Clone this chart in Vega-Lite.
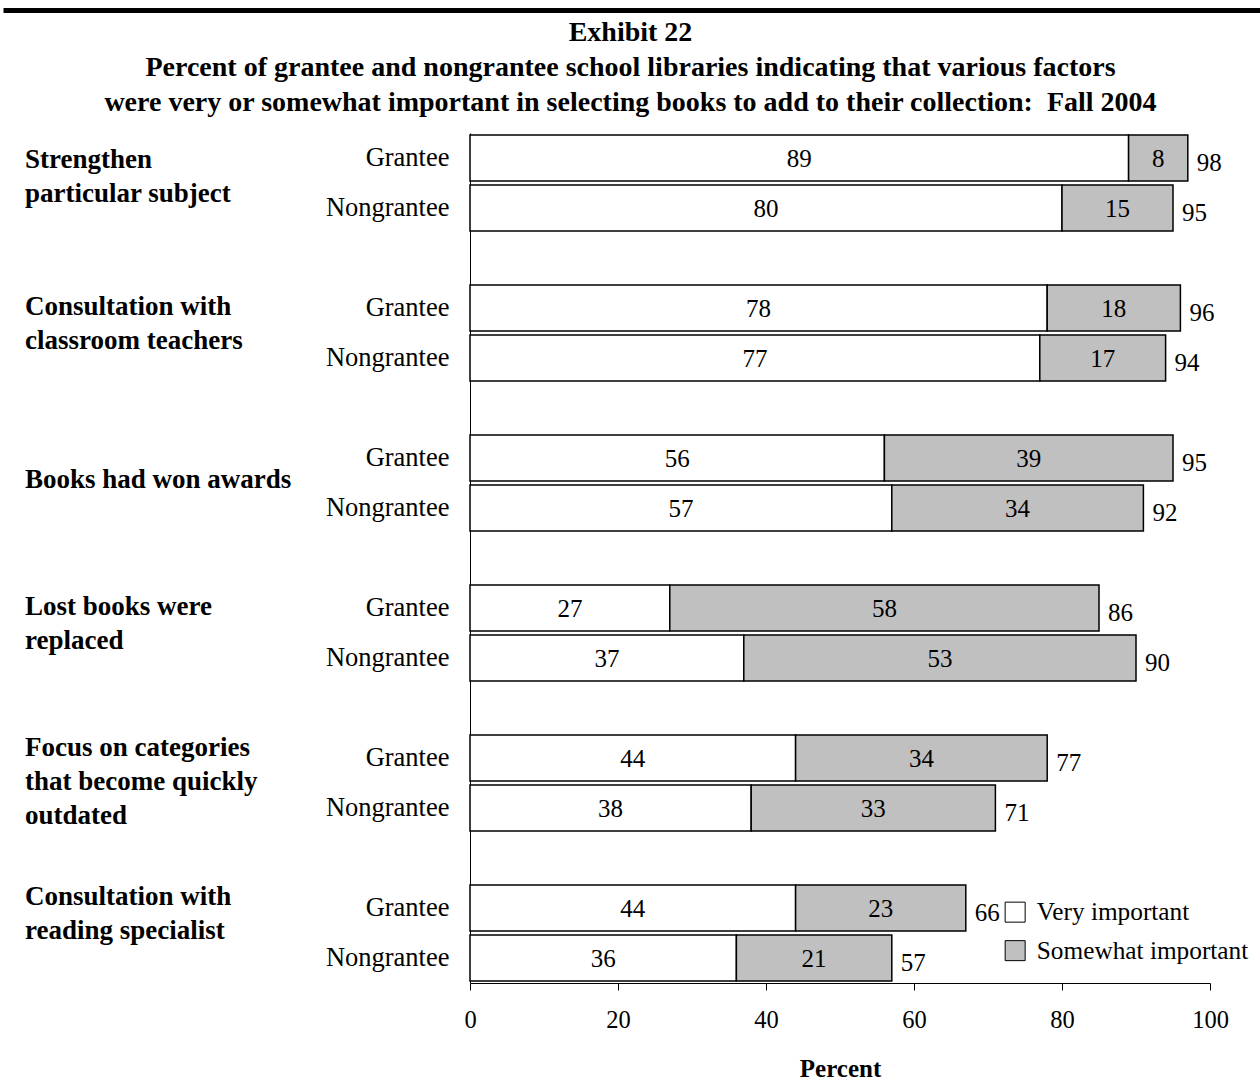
{
  "$schema": "https://vega.github.io/schema/vega-lite/v6.json",
  "padding": {"left": 0, "top": 7, "right": 0, "bottom": 0},
  "autosize": {"type": "pad"},
  "background": "white",
  "spacing": 6,
  "config": {
    "font": "Liberation Serif",
    "view": {"stroke": null},
    "axis": {"labelColor": "black", "titleColor": "black", "domainColor": "black", "tickColor": "black", "grid": false}
  },
  "resolve": {"legend": {"fill": "independent"}},
  "vconcat": [
    {
      "width": 790,
      "height": 5,
      "view": {"fill": "black", "stroke": null},
      "data": {"values": [{"band": "top"}]},
      "mark": {"type": "rect", "color": "black"},
      "encoding": {
        "y": {"field": "band", "type": "nominal", "axis": {"title": null, "labels": false, "domain": false, "ticks": true, "tickSize": 467, "tickWidth": 5, "tickColor": "black"}}
      }
    },
    {
      "width": 740,
      "height": 850,
      "title": {
        "text": ["Exhibit 22", "Percent of grantee and nongrantee school libraries indicating that various factors", "were very or somewhat important in selecting books to add to their collection:\u00a0 Fall 2004"],
        "fontSize": 28, "fontWeight": "bold", "font": "Liberation Serif", "lineHeight": 35,
        "anchor": "middle", "frame": "bounds", "offset": 16, "dx": -6, "color": "black"
      },
      "data": {"values": [
        {"factor": "Strengthen particular subject", "who": "Grantee", "very": 89, "somewhat": 8, "total": 98},
        {"factor": "Strengthen particular subject", "who": "Nongrantee", "very": 80, "somewhat": 15, "total": 95},
        {"factor": "Consultation with classroom teachers", "who": "Grantee", "very": 78, "somewhat": 18, "total": 96},
        {"factor": "Consultation with classroom teachers", "who": "Nongrantee", "very": 77, "somewhat": 17, "total": 94},
        {"factor": "Books had won awards", "who": "Grantee", "very": 56, "somewhat": 39, "total": 95},
        {"factor": "Books had won awards", "who": "Nongrantee", "very": 57, "somewhat": 34, "total": 92},
        {"factor": "Lost books were replaced", "who": "Grantee", "very": 27, "somewhat": 58, "total": 86},
        {"factor": "Lost books were replaced", "who": "Nongrantee", "very": 37, "somewhat": 53, "total": 90},
        {"factor": "Focus on categories that become quickly outdated", "who": "Grantee", "very": 44, "somewhat": 34, "total": 77},
        {"factor": "Focus on categories that become quickly outdated", "who": "Nongrantee", "very": 38, "somewhat": 33, "total": 71},
        {"factor": "Consultation with reading specialist", "who": "Grantee", "very": 44, "somewhat": 23, "total": 66},
        {"factor": "Consultation with reading specialist", "who": "Nongrantee", "very": 36, "somewhat": 21, "total": 57}
      ]},
      "transform": [
        {"fold": ["very", "somewhat"], "as": ["level", "value"]},
        {"stack": "value", "groupby": ["factor", "who"], "sort": [{"field": "level", "order": "descending"}], "as": ["x0", "x1"]}
      ],
      "resolve": {"axis": {"y": "independent"}},
      "layer": [
        {
          "mark": {"type": "bar", "stroke": "black", "strokeWidth": 1.5},
          "encoding": {
            "y": {"field": "factor", "type": "nominal",
              "scale": {"domain": ["Strengthen particular subject", "Consultation with classroom teachers", "Books had won awards", "Lost books were replaced", "Focus on categories that become quickly outdated", "Consultation with reading specialist"], "paddingInner": 0.333333, "paddingOuter": 0},
              "axis": {"orient": "left", "title": null, "ticks": false, "domain": true, "labelExpr": "'Grantee'", "labelOffset": -25, "labelPadding": 21, "labelFontSize": 26.5, "labelBaseline": "middle", "labelLimit": 0, "labelOverlap": false}},
            "yOffset": {"field": "who", "type": "nominal", "scale": {"domain": ["Grantee", "Nongrantee"], "paddingInner": 0.08, "paddingOuter": 0.04}},
            "x": {"field": "x0", "type": "quantitative", "scale": {"domain": [0, 100], "nice": false},
              "axis": {"values": [0, 20, 40, 60, 80, 100], "tickSize": 7, "labelFontSize": 24.5, "labelPadding": 18, "labelFlush": false, "title": "Percent", "titleFontSize": 25, "titleFontWeight": "bold", "titlePadding": 25}},
            "x2": {"field": "x1"},
            "fill": {"field": "level", "type": "nominal",
              "scale": {"domain": ["very", "somewhat"], "range": ["white", "#c0c0c0"]},
              "legend": {"orient": "none", "legendX": 532.5, "legendY": 766.5, "title": null, "symbolType": "square", "symbolSize": 400, "symbolStrokeColor": "black", "symbolStrokeWidth": 1, "labelFontSize": 25.3, "labelOffset": 9, "rowPadding": 12.5, "padding": 0, "labelColor": "black", "labelLimit": 0, "labelExpr": "datum.value == 'very' ? 'Very important' : 'Somewhat important'"}}
          }
        },
        {
          "transform": [
            {"fold": ["x0", "x1"], "as": ["edge", "pos"]},
            {"aggregate": [{"op": "mean", "field": "pos", "as": "mid"}], "groupby": ["factor", "who", "level", "value"]}
          ],
          "mark": {"type": "text", "fontSize": 25, "color": "black", "baseline": "middle", "dy": 1},
          "encoding": {
            "y": {"field": "factor", "type": "nominal",
              "axis": {"orient": "left", "title": null, "ticks": false, "domain": false, "labelExpr": "'Nongrantee'", "labelOffset": 25, "labelPadding": 21, "labelFontSize": 26.5, "labelBaseline": "middle", "labelLimit": 0, "labelOverlap": false}},
            "yOffset": {"field": "who", "type": "nominal"},
            "x": {"field": "mid", "type": "quantitative",
              "axis": {"values": [0, 20, 40, 60, 80, 100], "tickSize": 7, "labelFontSize": 24.5, "labelPadding": 18, "labelFlush": false, "title": "Percent", "titleFontSize": 25, "titleFontWeight": "bold", "titlePadding": 25}},
            "text": {"field": "value", "type": "quantitative"}
          }
        },
        {
          "transform": [{"filter": "datum.level == 'somewhat'"}],
          "mark": {"type": "text", "fontSize": 25, "color": "black", "baseline": "middle", "align": "left", "dx": 9, "dy": 5},
          "encoding": {
            "y": {"field": "factor", "type": "nominal",
              "axis": {"orient": "left", "title": null, "ticks": false, "domain": false, "labelAlign": "left", "labelPadding": 445.5, "labelFontSize": 27, "labelFontWeight": "bold", "labelBaseline": "middle", "labelLineHeight": 34, "labelLimit": 0, "labelOverlap": false,
                "labelExpr": "datum.value == 'Strengthen particular subject' ? ['Strengthen', 'particular subject'] : datum.value == 'Consultation with classroom teachers' ? ['Consultation with', 'classroom teachers'] : datum.value == 'Lost books were replaced' ? ['Lost books were', 'replaced'] : datum.value == 'Focus on categories that become quickly outdated' ? ['Focus on categories', 'that become quickly', 'outdated'] : datum.value == 'Consultation with reading specialist' ? ['Consultation with', 'reading specialist'] : datum.value",
                "labelOffset": {"condition": [
                  {"test": "datum.value == 'Strengthen particular subject'", "value": -23},
                  {"test": "datum.value == 'Consultation with classroom teachers'", "value": -26},
                  {"test": "datum.value == 'Books had won awards'", "value": -3},
                  {"test": "datum.value == 'Lost books were replaced'", "value": -26},
                  {"test": "datum.value == 'Focus on categories that become quickly outdated'", "value": -35}
                ], "value": -36}}},
            "yOffset": {"field": "who", "type": "nominal"},
            "x": {"field": "x1", "type": "quantitative",
              "axis": {"values": [0, 20, 40, 60, 80, 100], "tickSize": 7, "labelFontSize": 24.5, "labelPadding": 18, "labelFlush": false, "title": "Percent", "titleFontSize": 25, "titleFontWeight": "bold", "titlePadding": 25}},
            "text": {"field": "total", "type": "quantitative"}
          }
        }
      ]
    }
  ]
}
